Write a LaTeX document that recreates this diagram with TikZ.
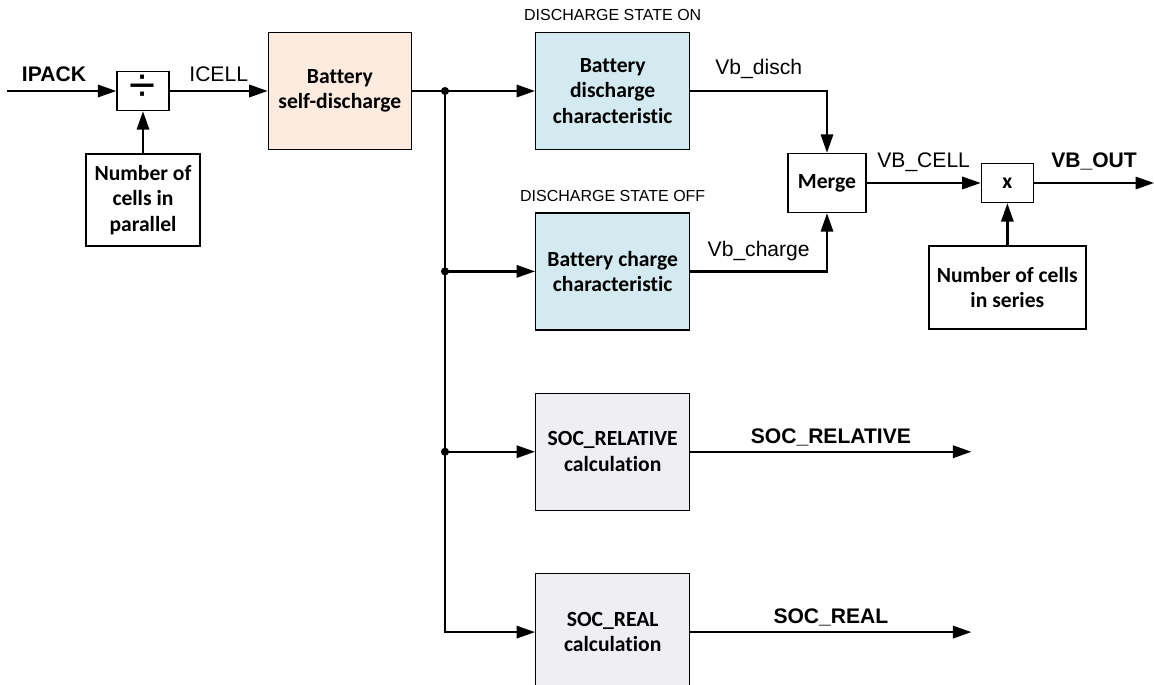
\documentclass[tikz,border=0pt]{standalone}
\usepackage{fontspec}
\setsansfont{Liberation Sans}
\newfontfamily\boxfont[Ligatures=NoCommon]{Carlito}
\usepackage{xcolor}
\usepackage{tikz}
\usetikzlibrary{arrows.meta, positioning, calc}

\definecolor{peach}{RGB}{252,235,222}
\definecolor{paleblue}{RGB}{210,234,240}
\definecolor{palegray}{RGB}{239,238,243}

\begin{document}
\begin{tikzpicture}[x=0.02cm, y=-0.02cm, node distance=1.24cm,
    every node/.style={align=center},
    blk/.style={draw, line width=0.8pt, inner sep=2pt, font=\boxfont\bfseries\fontsize{12.3}{14.6}\selectfont},
    lbl/.style={inner sep=1pt, text depth=0pt, font=\sffamily\fontsize{12}{14}\selectfont},
    lblb/.style={lbl, font=\sffamily\bfseries\fontsize{12}{14}\selectfont},
    wire/.style={line width=1.3pt},
    arr/.style={wire, -{Triangle[length=10.5pt,width=7pt]}}]
    \useasboundingbox (0,0) rectangle (1154,685);
    \node[blk, minimum width=1.04cm, minimum height=0.78cm, text height=12pt, text depth=0pt, inner sep=0pt] (div) at (143,91) {\sffamily\mdseries\fontsize{27}{27}\selectfont ÷};
    \node[blk, minimum width=2.28cm, minimum height=1.84cm, below=0.84cm of div] (npar) {Number of\\cells in\\parallel};
    \node[blk, fill=peach, minimum width=2.86cm, minimum height=2.34cm, right=1.96cm of div] (selfd) {Battery\\self-discharge};
    \node[blk, fill=paleblue, minimum width=3.08cm, minimum height=2.34cm, right=2.46cm of selfd] (disch) {Battery\\discharge\\characteristic};
    \node[blk, fill=paleblue, minimum width=3.08cm, minimum height=2.34cm, below=of disch] (charge) {Battery charge\\characteristic};
    \node[blk, fill=palegray, minimum width=3.08cm, minimum height=2.34cm, below=of charge] (socrel) {SOC\_RELATIVE\\calculation};
    \node[blk, fill=palegray, minimum width=3.08cm, minimum height=2.34cm, below=of socrel] (socreal) {SOC\_REAL\\calculation};
    \node[blk, minimum width=1.56cm, minimum height=1.18cm] (merge) at (827,183) {Merge};
    \node[blk, minimum width=1.04cm, minimum height=0.78cm, right=2.28cm of merge] (mul) {x};
    \node[blk, minimum width=3.14cm, minimum height=1.66cm, below=0.84cm of mul] (nser) {Number of cells\\in series};
    \node[lbl, above=5pt of disch] (stateon) {\fontsize{9.1}{11}\selectfont DISCHARGE STATE ON};
    \node[lbl, above=5pt of charge] (stateoff) {\fontsize{9.1}{11}\selectfont DISCHARGE STATE OFF};

    \coordinate (in) at (7,91);
    \coordinate (bus) at (445,91);
    \coordinate (vbout) at (1154,183);
    \coordinate (relout) at ($(socrel.east)+(281,0)$);
    \coordinate (realout) at ($(socreal.east)+(281,0)$);

    \draw[arr] (in) -- node[lblb, pos=0.43, above=3.9pt] (ipack) {IPACK} (div);
    \draw[arr] (div) -- node[lbl, above=3.9pt] (icell) {ICELL} (selfd);
    \draw[arr] (npar) -- (div);
    \draw[arr] (selfd) -- (disch);
    \draw[arr] (bus) |- (socreal);
    \draw[arr] (bus |- charge) -- (charge);
    \draw[arr] (bus |- socrel) -- (socrel);
    \fill (bus) circle (2.3pt);
    \fill (bus |- charge) circle (2.3pt);
    \fill (bus |- socrel) circle (2.3pt);
    \draw[arr] (disch) -| node[lbl, pos=0.25, above=8pt] (vbd) {Vb\_disch} (merge);
    \draw[arr] (charge) -| node[lbl, pos=0.25, above=7pt] (vbc) {Vb\_charge} (merge);
    \draw[arr] (merge) -- node[lbl, above=7.3pt] (vbcell) {VB\_CELL} (mul);
    \draw[arr] (nser) -- (mul);
    \draw[arr] (mul) -- node[lblb, above=7.3pt] (vbo) {VB\_OUT} (vbout);
    \draw[arr] (socrel) -- node[lblb, above=3.2pt] (relname) {SOC\_RELATIVE} (relout);
    \draw[arr] (socreal) -- node[lblb, above=3.2pt] (realname) {SOC\_REAL} (realout);
\end{tikzpicture}
\end{document}
